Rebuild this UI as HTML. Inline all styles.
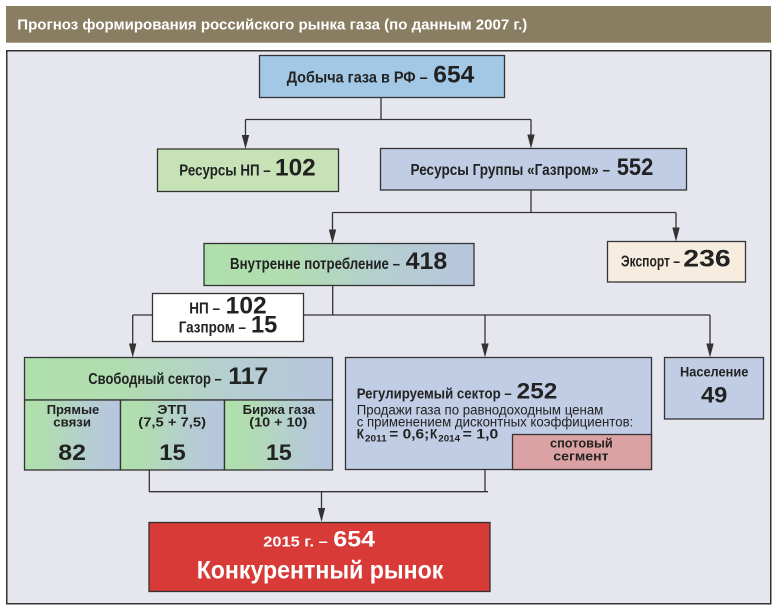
<!DOCTYPE html>
<html>
<head>
<meta charset="utf-8">
<style>
  html,body{margin:0;padding:0;background:#fff;}
  svg{display:block;}
  text{font-family:"Liberation Sans", "DejaVu Sans", sans-serif;}
</style>
</head>
<body>
<svg width="778" height="610" viewBox="0 0 778 610" xmlns="http://www.w3.org/2000/svg">
  <defs>
    <linearGradient id="gr" x1="0" y1="0" x2="1" y2="0">
      <stop offset="0" stop-color="#afe0ac"/>
      <stop offset="0.3" stop-color="#b1ddb0"/>
      <stop offset="0.65" stop-color="#b5cfcf"/>
      <stop offset="1" stop-color="#b7c5df"/>
    </linearGradient>
    <linearGradient id="gr2" x1="0" y1="0" x2="1" y2="0">
      <stop offset="0" stop-color="#afe0ac"/>
      <stop offset="0.2" stop-color="#b1ddb0"/>
      <stop offset="0.7" stop-color="#b5ccd4"/>
      <stop offset="1" stop-color="#b7c5df"/>
    </linearGradient>
  </defs>

  <!-- title bar -->
  <rect x="6" y="6" width="765" height="36.7" fill="#8a7e62"/>
  <text x="17.3" y="29.3" font-size="15" font-weight="bold" fill="#ffffff" textLength="510" lengthAdjust="spacingAndGlyphs">Прогноз формирования российского рынка газа (по данным 2007 г.)</text>

  <!-- frame -->
  <rect x="6.75" y="50.75" width="764" height="553" fill="#e6e7ee" stroke="#333" stroke-width="1.5"/>

  <!-- connectors -->
  <g stroke="#333" stroke-width="1.3" fill="none">
    <line x1="381" y1="97.5" x2="381" y2="119.5"/>
    <line x1="245.5" y1="119.5" x2="531" y2="119.5"/>
    <line x1="245.5" y1="119.5" x2="245.5" y2="140"/>
    <line x1="531" y1="119.5" x2="531" y2="140"/>

    <line x1="531" y1="190" x2="531" y2="212.5"/>
    <line x1="332.5" y1="212.5" x2="676" y2="212.5"/>
    <line x1="332.5" y1="212.5" x2="332.5" y2="235"/>
    <line x1="676" y1="212.5" x2="676" y2="233"/>

    <line x1="332.7" y1="285.5" x2="332.7" y2="315"/>
    <line x1="132.7" y1="315" x2="710" y2="315"/>
    <line x1="132.7" y1="315" x2="132.7" y2="348"/>
    <line x1="485" y1="315" x2="485" y2="348"/>
    <line x1="710" y1="315" x2="710" y2="348"/>

    <line x1="149.3" y1="470" x2="149.3" y2="491.7"/>
    <line x1="485" y1="469.5" x2="485" y2="491.7"/>
    <line x1="149" y1="491.7" x2="488" y2="491.7"/>
    <line x1="321.5" y1="491.7" x2="321.5" y2="512"/>
  </g>
  <!-- arrowheads -->
  <g fill="#333">
    <polygon points="241.8,135 249.2,135 245.5,149"/>
    <polygon points="527.3,134.5 534.7,134.5 531,148.5"/>
    <polygon points="328.8,229.5 336.2,229.5 332.5,243.5"/>
    <polygon points="672.3,227.5 679.7,227.5 676,241.5"/>
    <polygon points="129,343.5 136.4,343.5 132.7,357.5"/>
    <polygon points="481.3,343.5 488.7,343.5 485,357.5"/>
    <polygon points="706.3,343.5 713.7,343.5 710,357.5"/>
    <polygon points="317.8,508 325.2,508 321.5,522"/>
  </g>

  <!-- boxes -->
  <g stroke="#333" stroke-width="1.3">
    <rect x="259.5" y="55.5" width="245" height="42" fill="#a2c8e5"/>
    <rect x="157.5" y="149" width="181" height="42.5" fill="#c6e2b6"/>
    <rect x="380.5" y="148.5" width="306" height="41.5" fill="#c0cde4"/>
    <rect x="204" y="243.5" width="270" height="42" fill="url(#gr)"/>
    <rect x="607.5" y="241.5" width="138" height="40.5" fill="#f6ede0"/>
    <rect x="152.5" y="293.5" width="151" height="48" fill="#ffffff"/>

    <rect x="24.5" y="357.5" width="308" height="42.5" fill="url(#gr)"/>
    <rect x="24.5" y="400" width="96" height="70" fill="url(#gr2)"/>
    <rect x="120.5" y="400" width="104" height="70" fill="url(#gr2)"/>
    <rect x="224.5" y="400" width="108" height="70" fill="url(#gr2)"/>

    <rect x="345.5" y="357.5" width="306" height="112" fill="#c0cde4"/>
    <rect x="512.5" y="434.5" width="139" height="35" fill="#dca1a3"/>
    <rect x="664.5" y="357.5" width="99" height="61.5" fill="#c0cde4"/>

    <rect x="149" y="522.5" width="341" height="69" fill="#d83a38"/>
  </g>

  <!-- texts -->
  <g fill="#222" font-weight="bold">
    <text x="286.7" y="82.7" font-size="16" textLength="141" lengthAdjust="spacingAndGlyphs">Добыча газа в РФ –</text>
    <text x="433.3" y="82.7" font-size="24" textLength="41" lengthAdjust="spacingAndGlyphs">654</text>

    <text x="179.3" y="175.7" font-size="16" textLength="91.4" lengthAdjust="spacingAndGlyphs">Ресурсы НП –</text>
    <text x="275" y="175.7" font-size="24" textLength="40.7" lengthAdjust="spacingAndGlyphs">102</text>

    <text x="410.5" y="175" font-size="16" textLength="199.5" lengthAdjust="spacingAndGlyphs">Ресурсы Группы «Газпром» –</text>
    <text x="616.7" y="175" font-size="24" textLength="36.6" lengthAdjust="spacingAndGlyphs">552</text>

    <text x="230" y="269" font-size="16" textLength="170" lengthAdjust="spacingAndGlyphs">Внутренне потребление –</text>
    <text x="405.7" y="269" font-size="24" textLength="41.6" lengthAdjust="spacingAndGlyphs">418</text>

    <text x="621" y="266.7" font-size="16" textLength="59" lengthAdjust="spacingAndGlyphs">Экспорт –</text>
    <text x="683.3" y="266.7" font-size="24" textLength="47.4" lengthAdjust="spacingAndGlyphs">236</text>

    <text x="189.3" y="313.3" font-size="16" textLength="30.7" lengthAdjust="spacingAndGlyphs">НП –</text>
    <text x="225.7" y="313.3" font-size="24" textLength="41" lengthAdjust="spacingAndGlyphs">102</text>
    <text x="178.7" y="332.3" font-size="16" textLength="67.3" lengthAdjust="spacingAndGlyphs">Газпром –</text>
    <text x="251" y="332.3" font-size="24" textLength="26.3" lengthAdjust="spacingAndGlyphs">15</text>

    <text x="88.3" y="384" font-size="16" textLength="133.4" lengthAdjust="spacingAndGlyphs">Свободный сектор –</text>
    <text x="228.3" y="384" font-size="24" textLength="40" lengthAdjust="spacingAndGlyphs">117</text>

    <text x="46.7" y="414" font-size="13" textLength="52.6" lengthAdjust="spacingAndGlyphs">Прямые</text>
    <text x="53.3" y="426.7" font-size="13" textLength="37.7" lengthAdjust="spacingAndGlyphs">связи</text>
    <text x="157.3" y="414" font-size="13" textLength="29.4" lengthAdjust="spacingAndGlyphs">ЭТП</text>
    <text x="138.3" y="426.7" font-size="13" textLength="67.7" lengthAdjust="spacingAndGlyphs">(7,5 + 7,5)</text>
    <text x="242.7" y="414" font-size="13" textLength="72.3" lengthAdjust="spacingAndGlyphs">Биржа газа</text>
    <text x="249.3" y="426.7" font-size="13" textLength="58" lengthAdjust="spacingAndGlyphs">(10 + 10)</text>

    <text x="58.3" y="460" font-size="22" textLength="27.7" lengthAdjust="spacingAndGlyphs">82</text>
    <text x="159.3" y="460" font-size="22" textLength="26.4" lengthAdjust="spacingAndGlyphs">15</text>
    <text x="266" y="460" font-size="22" textLength="25.7" lengthAdjust="spacingAndGlyphs">15</text>

    <text x="356.7" y="398.3" font-size="14.5" textLength="155" lengthAdjust="spacingAndGlyphs">Регулируемый сектор –</text>
    <text x="516.7" y="398.3" font-size="22" textLength="40.6" lengthAdjust="spacingAndGlyphs">252</text>
  </g>
  <g fill="#222">
    <text x="356.7" y="414.7" font-size="13.5" textLength="246.6" lengthAdjust="spacingAndGlyphs">Продажи газа по равнодоходным ценам</text>
    <text x="356.7" y="426.7" font-size="13.5" textLength="276.6" lengthAdjust="spacingAndGlyphs">с применением дисконтных коэффициентов:</text>
  </g>
  <g fill="#222" font-weight="bold">
    <text x="356.7" y="438.3" font-size="13.5" textLength="7.3" lengthAdjust="spacingAndGlyphs">К</text>
    <text x="365" y="441.5" font-size="9.5" textLength="21.7" lengthAdjust="spacingAndGlyphs">2011</text>
    <text x="389.3" y="438.3" font-size="13.5" textLength="40" lengthAdjust="spacingAndGlyphs">= 0,6;</text>
    <text x="430" y="438.3" font-size="13.5" textLength="7.3" lengthAdjust="spacingAndGlyphs">К</text>
    <text x="438.3" y="441.5" font-size="9.5" textLength="21.7" lengthAdjust="spacingAndGlyphs">2014</text>
    <text x="462.7" y="438.3" font-size="13.5" textLength="35.6" lengthAdjust="spacingAndGlyphs">= 1,0</text>

    <text x="550" y="447.3" font-size="13" textLength="62.7" lengthAdjust="spacingAndGlyphs">спотовый</text>
    <text x="553.3" y="460.7" font-size="13" textLength="55.3" lengthAdjust="spacingAndGlyphs">сегмент</text>

    <text x="680" y="376.7" font-size="13.5" textLength="68.3" lengthAdjust="spacingAndGlyphs">Население</text>
    <text x="701" y="402.7" font-size="22" textLength="26.3" lengthAdjust="spacingAndGlyphs">49</text>
  </g>
  <g fill="#ffffff" font-weight="bold">
    <text x="263.3" y="546.7" font-size="15" textLength="64.4" lengthAdjust="spacingAndGlyphs">2015 г. –</text>
    <text x="333.3" y="546.7" font-size="22" textLength="41.7" lengthAdjust="spacingAndGlyphs">654</text>
    <text x="196.7" y="578.3" font-size="25" textLength="246.6" lengthAdjust="spacingAndGlyphs">Конкурентный рынок</text>
  </g>
</svg>
</body>
</html>
